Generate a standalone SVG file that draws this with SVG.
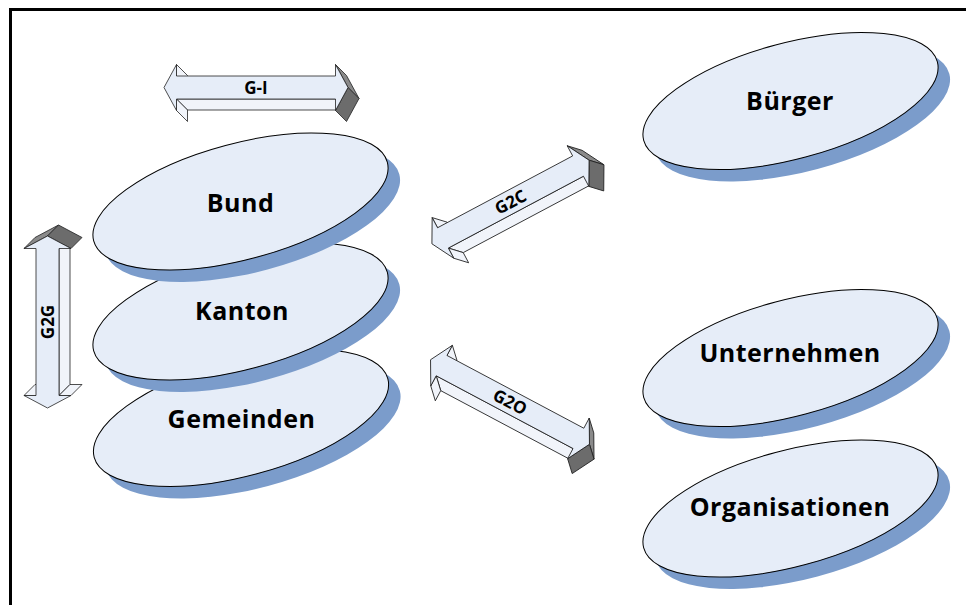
<svg xmlns="http://www.w3.org/2000/svg" width="966" height="605" viewBox="0 0 966 605">
<style>
.shadow{fill:#7b9ccb;stroke:none}
.ell{fill:#e6edf8;stroke:#000;stroke-width:1}
.lbl{font-family:"Open Sans","Noto Sans","DejaVu Sans",sans-serif;font-weight:700;font-size:25px;letter-spacing:0.5px;fill:#000;text-anchor:middle}
.alb{font-family:"Open Sans","Noto Sans","DejaVu Sans",sans-serif;font-weight:700;font-size:17px;fill:#000;text-anchor:middle}
.back{fill:#e6edf8;stroke:none}
.front{fill:#e6edf8;stroke:#222;stroke-width:0.8;stroke-linejoin:round}
.side{fill:#f1f4fa;stroke:#222;stroke-width:0.8;stroke-linejoin:round}
.dark1{fill:#8a8a8a;stroke:#222;stroke-width:0.8;stroke-linejoin:round}
.dark2{fill:#6c6c6c;stroke:#222;stroke-width:0.8;stroke-linejoin:round}
</style>
<rect x="0" y="0" width="966" height="605" fill="#fff"/>
<rect id="frame" x="10.5" y="9.5" width="1000" height="700" fill="none" stroke="#000" stroke-width="3"/>

<g id="gemeinden">
<ellipse class="shadow" cx="253" cy="430" rx="152" ry="58" transform="rotate(-15 253 430)"/>
<ellipse class="ell" cx="241" cy="418" rx="152" ry="58" transform="rotate(-15 241 418)"/>
<text class="lbl" x="241.5" y="428">Gemeinden</text>
</g>
<g id="kanton">
<ellipse class="shadow" cx="252.5" cy="323.5" rx="152" ry="58" transform="rotate(-15 252.5 323.5)"/>
<ellipse class="ell" cx="240.5" cy="311.5" rx="152" ry="58" transform="rotate(-15 240.5 311.5)"/>
<text class="lbl" x="242" y="320">Kanton</text>
</g>
<g id="bund">
<ellipse class="shadow" cx="252.5" cy="213.5" rx="152" ry="58" transform="rotate(-15 252.5 213.5)"/>
<ellipse class="ell" cx="240.5" cy="201.5" rx="152" ry="58" transform="rotate(-15 240.5 201.5)"/>
<text class="lbl" x="240.5" y="211.5">Bund</text>
</g>
<g id="buerger">
<ellipse class="shadow" cx="802.5" cy="113" rx="152" ry="58" transform="rotate(-15 802.5 113)"/>
<ellipse class="ell" cx="790.5" cy="101" rx="152" ry="58" transform="rotate(-15 790.5 101)"/>
<text class="lbl" x="790" y="110">Bürger</text>
</g>
<g id="unternehmen">
<ellipse class="shadow" cx="802.5" cy="370" rx="152" ry="58" transform="rotate(-15 802.5 370)"/>
<ellipse class="ell" cx="790.5" cy="358" rx="152" ry="58" transform="rotate(-15 790.5 358)"/>
<text class="lbl" x="790" y="361.5">Unternehmen</text>
</g>
<g id="organisationen">
<ellipse class="shadow" cx="802.5" cy="520.5" rx="152" ry="58" transform="rotate(-15 802.5 520.5)"/>
<ellipse class="ell" cx="790.5" cy="508.5" rx="152" ry="58" transform="rotate(-15 790.5 508.5)"/>
<text class="lbl" x="790" y="515.5">Organisationen</text>
</g>

<g id="connectors">
<g id="arrow-gi" transform="translate(256 87.5)">
<polygon class="back" points="-81,11 -68.5,-12 -68.5,-0.5 90.5,-0.5 90.5,-12 103,11 90.5,34 90.5,22.5 -68.5,22.5 -68.5,34"/>
<polygon class="side" points="-79.5,11.5 79.5,11.5 90.5,22.5 -68.5,22.5"/>
<polygon class="side" points="-79.5,-11.5 -79.5,-23 -68.5,-12 -68.5,-0.5"/>
<polygon class="side" points="-79.5,23 -79.5,11.5 -68.5,22.5 -68.5,34"/>
<polygon class="dark1" points="79.5,-23 92,0 103,11 90.5,-12"/>
<polygon class="dark2" points="92,0 79.5,23 90.5,34 103,11"/>
<polygon class="front" points="-92,0 -79.5,-23 -79.5,-11.5 79.5,-11.5 79.5,-23 92,0 79.5,23 79.5,11.5 -79.5,11.5 -79.5,23"/>
<text class="alb" x="0" y="6">G-I</text>
</g>
<g id="arrow-g2g" transform="translate(47.5 322) rotate(-90)">
<polygon class="back" points="-75,11 -62.5,-12.5 -62.5,-0.5 84.5,-0.5 84.5,-12.5 97,11 84.5,34.5 84.5,22.5 -62.5,22.5 -62.5,34.5"/>
<polygon class="side" points="-73.5,11.5 73.5,11.5 84.5,22.5 -62.5,22.5"/>
<polygon class="side" points="-73.5,-11.5 -73.5,-23.5 -62.5,-12.5 -62.5,-0.5"/>
<polygon class="side" points="-73.5,23.5 -73.5,11.5 -62.5,22.5 -62.5,34.5"/>
<polygon class="dark1" points="73.5,-23.5 86,0 97,11 84.5,-12.5"/>
<polygon class="dark2" points="86,0 73.5,23.5 84.5,34.5 97,11"/>
<polygon class="front" points="-86,0 -73.5,-23.5 -73.5,-11.5 73.5,-11.5 73.5,-23.5 86,0 73.5,23.5 73.5,11.5 -73.5,11.5 -73.5,23.5"/>
<text class="alb" x="0" y="6">G2G</text>
</g>
<g id="arrow-g2c" transform="translate(510.5 202) rotate(-28)">
<polygon class="back" points="-78,11 -65.5,-12 -65.5,-0.5 87.5,-0.5 87.5,-12 100,11 87.5,34 87.5,22.5 -65.5,22.5 -65.5,34"/>
<polygon class="side" points="-76.5,11.5 76.5,11.5 87.5,22.5 -65.5,22.5"/>
<polygon class="side" points="-76.5,-11.5 -76.5,-23 -65.5,-12 -65.5,-0.5"/>
<polygon class="side" points="-76.5,23 -76.5,11.5 -65.5,22.5 -65.5,34"/>
<polygon class="dark1" points="76.5,-23 89,0 100,11 87.5,-12"/>
<polygon class="dark2" points="89,0 76.5,23 87.5,34 100,11"/>
<polygon class="front" points="-89,0 -76.5,-23 -76.5,-11.5 76.5,-11.5 76.5,-23 89,0 76.5,23 76.5,11.5 -76.5,11.5 -76.5,23"/>
<text class="alb" x="0" y="6">G2C</text>
</g>
<g id="arrow-g2o" transform="translate(510 402) rotate(28)">
<polygon class="back" points="-79,11 -66.5,-12 -66.5,-0.5 88.5,-0.5 88.5,-12 101,11 88.5,34 88.5,22.5 -66.5,22.5 -66.5,34"/>
<polygon class="side" points="-77.5,11.5 77.5,11.5 88.5,22.5 -66.5,22.5"/>
<polygon class="side" points="-77.5,-11.5 -77.5,-23 -66.5,-12 -66.5,-0.5"/>
<polygon class="side" points="-77.5,23 -77.5,11.5 -66.5,22.5 -66.5,34"/>
<polygon class="dark1" points="77.5,-23 90,0 101,11 88.5,-12"/>
<polygon class="dark2" points="90,0 77.5,23 88.5,34 101,11"/>
<polygon class="front" points="-90,0 -77.5,-23 -77.5,-11.5 77.5,-11.5 77.5,-23 90,0 77.5,23 77.5,11.5 -77.5,11.5 -77.5,23"/>
<text class="alb" x="0" y="6">G2O</text>
</g>
</g>
</svg>
